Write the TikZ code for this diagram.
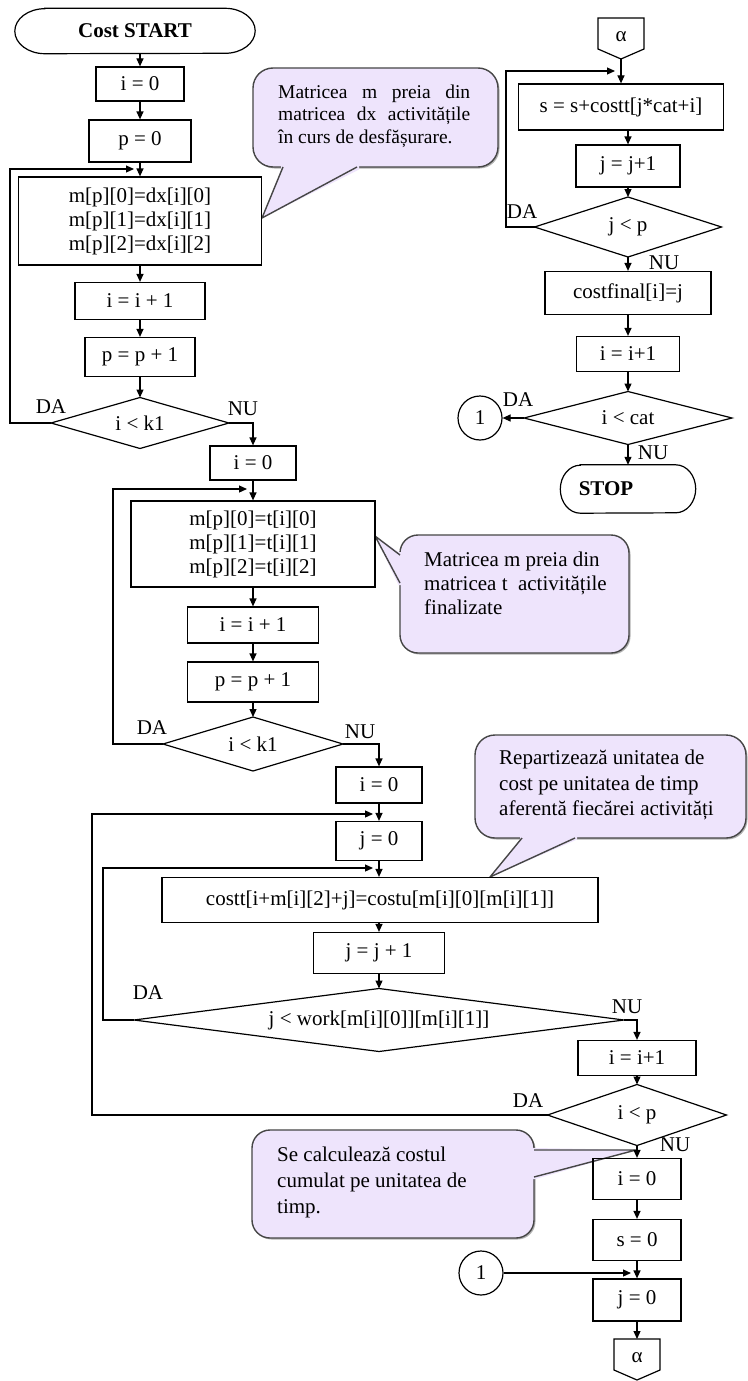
\documentclass[tikz,border=0pt]{standalone}
\usepackage{fontspec}
\setmainfont{Liberation Serif}
\usetikzlibrary{arrows.meta,shadows}
\definecolor{callfill}{RGB}{238,228,252}
\definecolor{callline}{RGB}{70,70,70}
\newcommand\fs{\fontsize{21}{24}\selectfont}
\newcommand\mydecision[6]{%
  \node[lbl] (#1) at (#2,#3) {#6};
  \coordinate (#1-n) at ({#2},{#3+#5/2});
  \coordinate (#1-s) at ({#2},{#3-#5/2});
  \coordinate (#1-w) at ({#2-#4/2},{#3});
  \coordinate (#1-e) at ({#2+#4/2},{#3});
  \draw[ln] (#1-w) -- (#1-n) -- (#1-e) -- (#1-s) -- cycle;}
\newcommand\myoffpage[3]{%
  \coordinate (#1-n) at ({#2},{#3});
  \coordinate (#1-s) at ({#2},{#3-41});
  \node[lbl] (#1) at ({#2},{#3-19}) {α};
  \draw[ln] ({#2-23},{#3}) -- ({#2+23},{#3}) -- ({#2+23},{#3-31}) -- (#1-s) -- ({#2-23},{#3-31}) -- cycle;}
\tikzset{
  ln/.style={line width=1.2pt, line join=miter},
  box/.style={draw, line width=1.2pt, inner sep=0pt, align=center, font=\fs},
  lbl/.style={inner sep=0pt, font=\fs},
  arr/.style={-{Triangle[length=8pt,width=7pt]}, line width=1.2pt},
  call/.style={draw=callline, fill=callfill, line width=1.4pt, line join=round,
    drop shadow={shadow xshift=1.5pt, shadow yshift=-1.5pt, fill=black, opacity=0.3}},
  ptr/.style={draw=callline, line width=1.4pt, line join=round},
  ctext/.style={inner sep=0pt, align=left, anchor=west},
}
\begin{document}
\begin{tikzpicture}[x=1pt,y=1pt]
\fill[white] (0,0) rectangle (747,-1381);
\useasboundingbox (0,0) rectangle (747,-1381);

% ---------- callouts ----------
% callout 1
\draw[call, rounded corners=20pt] (253,-68) rectangle (498,-167);
\fill[callfill] (262,-218) -- (281,-169.5) -- (281,-165) -- (359,-165) -- (359,-169.5) -- cycle;
\draw[ptr] (283,-167) -- (262,-218) -- (357,-167);
\node[ctext, font=\fontsize{19.5}{22.5}\selectfont] (t1) at (278,-116)
  {\makebox[192pt][s]{Matricea m preia din}\\ \makebox[192pt][s]{matricea dx activitățile}\\ în curs de desfășurare.};

% callout 2
\draw[call, rounded corners=18pt] (400,-535) rectangle (629,-653);
\fill[callfill] (375,-536) -- (398.5,-552) -- (402,-552) -- (402,-585) -- (398.5,-585) -- cycle;
\draw[ptr] (400,-555) -- (375,-536) -- (400,-583);
\node[ctext, font=\fs] (t2) at (424,-583)
  {Matricea m preia din\\ matricea t\ \ activitățile\\ finalizate};

% callout 3
\draw[call, rounded corners=20pt] (475,-735) rectangle (746,-838);
\fill[callfill] (490,-877) -- (520,-839.5) -- (520,-836) -- (577,-836) -- (577,-839.5) -- cycle;
\draw[ptr] (522,-838) -- (490,-877) -- (575,-838);
\node[ctext, font=\fontsize{21}{25.5}\selectfont] (t3) at (499,-785)
  {Repartizează unitatea de\\ cost pe unitatea de timp\\ aferentă fiecărei activități};

% callout 4
\draw[call, rounded corners=18pt] (252,-1130) rectangle (534,-1238);
\fill[callfill] (636,-1150) -- (535.5,-1148) -- (532,-1148) -- (532,-1179) -- (535.5,-1179) -- cycle;
\draw[ptr] (534,-1150) -- (636,-1150) -- (534,-1177);
\node[ctext, font=\fontsize{21}{26}\selectfont] (t4) at (277,-1182)
  {Se calculează costul\\ cumulat pe unitatea de\\ timp.};

% ---------- first column ----------
\node[lbl, font=\fs\bfseries, minimum width=240pt, minimum height=45pt] (start) at (135,-31) {Cost START};
\draw[ln] ([xshift=30pt]start.north west) -- ([xshift=-30pt]start.north east)
  arc[start angle=90,end angle=-90,x radius=30pt,y radius=22.5pt]
  -- ([xshift=30pt]start.south west)
  arc[start angle=270,end angle=90,x radius=30pt,y radius=22.5pt] -- cycle;
\node[box, minimum width=88pt, minimum height=34pt] (a1) at (140,-84) {i = 0};
\node[box, minimum width=102pt, minimum height=42pt] (a2) at (140,-141) {p = 0};
\node[box, minimum width=243pt, minimum height=88pt] (a3) at (140,-221) {m[p][0]=dx[i][0]\\ m[p][1]=dx[i][1]\\ m[p][2]=dx[i][2]};
\node[box, minimum width=130pt, minimum height=37pt] (a4) at (140,-301) {i = i + 1};
\node[box, minimum width=110pt, minimum height=39pt] (a5) at (140,-357) {p = p + 1};
\mydecision{d1}{140}{-423}{178}{51}{i < k1}
\node[lbl] (da1) at (51,-407) {DA};
\node[lbl] (nu1) at (243,-409) {NU};

% ---------- second column ----------
\node[box, minimum width=86pt, minimum height=34pt] (b1) at (253,-463) {i = 0};
\node[box, minimum width=244pt, minimum height=86pt] (b2) at (253,-544) {m[p][0]=t[i][0]\\ m[p][1]=t[i][1]\\ m[p][2]=t[i][2]};
\node[box, minimum width=131pt, minimum height=36pt] (b3) at (253,-625) {i = i + 1};
\node[box, minimum width=131pt, minimum height=40pt] (b4) at (253,-682) {p = p + 1};
\mydecision{d2}{253}{-744}{180}{54}{i < k1}
\node[lbl] (da2) at (152,-728) {DA};
\node[lbl] (nu2) at (360,-732) {NU};

% ---------- third column ----------
\node[box, minimum width=86pt, minimum height=36pt] (c1) at (379,-785) {i = 0};
\node[box, minimum width=86pt, minimum height=39pt] (c2) at (379,-841) {j = 0};
\node[box, minimum width=436pt, minimum height=45pt] (c3) at (380,-900) {costt[i+m[i][2]+j]=costu[m[i][0][m[i][1]]};
\node[box, minimum width=131pt, minimum height=41pt] (c4) at (379,-953) {j = j + 1};
\mydecision{d3}{379}{-1020}{490}{63}{j < work[m[i][0]][m[i][1]]}
\node[lbl] (da3) at (148,-993) {DA};
\node[lbl] (nu3) at (627,-1007) {NU};

% ---------- fourth column ----------
\node[box, minimum width=118pt, minimum height=35pt] (c5) at (637,-1058) {i = i+1};
\mydecision{d4}{637}{-1115}{179}{61}{i < p}
\node[lbl] (da4) at (528,-1101) {DA};
\node[lbl] (nu4) at (675,-1145) {NU};
\node[box, minimum width=88pt, minimum height=41pt] (e1) at (637,-1179) {i = 0};
\node[box, minimum width=88pt, minimum height=41pt] (e2) at (637,-1240) {s = 0};
\node[draw, circle, line width=1.2pt, minimum size=44pt, inner sep=0pt, font=\fs] (k1) at (481,-1273) {1};
\node[box, minimum width=88pt, minimum height=42pt] (e3) at (637,-1300) {j = 0};
\myoffpage{al2}{637}{-1339}

% ---------- right column ----------
\myoffpage{al1}{621}{-18}
\node[box, minimum width=205pt, minimum height=46pt] (r1) at (621,-107) {s = s+costt[j*cat+i]};
\node[box, minimum width=104pt, minimum height=42pt] (r2) at (628,-166) {j = j+1};
\mydecision{d5}{628}{-227}{187}{60}{j < p}
\node[lbl] (da5) at (522,-212) {DA};
\node[lbl] (nu5) at (664,-263) {NU};
\node[box, minimum width=166pt, minimum height=43pt] (r3) at (628,-293) {costfinal[i]=j};
\node[box, minimum width=103pt, minimum height=35pt] (r4) at (628,-354) {i = i+1};
\mydecision{d6}{628}{-418}{208}{53}{i < cat}
\node[lbl] (da6) at (518,-400) {DA};
\node[lbl] (nu6) at (653,-453) {NU};
\node[draw, circle, line width=1.2pt, minimum size=44pt, inner sep=0pt, font=\fs] (k2) at (480,-418) {1};
\node[lbl, font=\fs\bfseries, minimum width=135pt, minimum height=48pt] (stop) at (628,-489) {STOP\hspace*{44pt}};
\draw[ln] ([xshift=20pt]stop.north west) -- ([xshift=-20pt]stop.north east)
  arc[start angle=90,end angle=-90,x radius=20pt,y radius=24pt]
  -- ([xshift=20pt]stop.south west)
  arc[start angle=270,end angle=90,x radius=20pt,y radius=24pt] -- cycle;

% ---------- junction coordinates ----------
\coordinate (lc1) at (10,-169);  \coordinate (j1) at (134,-169);
\coordinate (lc2) at (113,-489); \coordinate (j2) at (247,-489);
\coordinate (lc3) at (92,-814);  \coordinate (j3) at (373,-814);
\coordinate (lc4) at (103,-868); \coordinate (j4) at (373,-868);
\coordinate (lc5) at (506,-71);  \coordinate (j5) at (615,-71);
\coordinate (j6) at (631,-1273);

% ---------- connectors ----------
\draw[arr] (start.south -| a1.north) -- (a1.north);
\draw[arr] (a1.south) -- (a2.north);
\draw[arr] (a2.south) -- (a3.north);
\draw[arr] (a3.south) -- (a4.north);
\draw[arr] (a4.south) -- (a5.north);
\draw[arr] (a5.south) -- (d1-n);
\draw[arr] (d1-w) -| (lc1) -- (j1);
\draw[arr] (d1-e) -| (b1.north);

\draw[arr] (b1.south) -- (b2.north);
\draw[arr] (b2.south) -- (b3.north);
\draw[arr] (b3.south) -- (b4.north);
\draw[arr] (b4.south) -- (d2-n);
\draw[arr] (d2-w) -| (lc2) -- (j2);
\draw[arr] (d2-e) -| (c1.north);

\draw[arr] (c1.south) -- (c2.north);
\draw[arr] (c2.south) -- (c2.south |- c3.north);
\draw[arr] (c3.south -| c4.north) -- (c4.north);
\draw[arr] (c4.south) -- (d3-n);
\draw[arr] (d3-w) -| (lc4) -- (j4);
\draw[arr] (d3-e) -| (c5.north);

\draw[arr] (c5.south) -- (d4-n);
\draw[arr] (d4-w) -| (lc3) -- (j3);
\draw[arr] (d4-s) -- (e1.north);
\draw[arr] (e1.south) -- (e2.north);
\draw[arr] (e2.south) -- (e3.north);
\draw[arr] (k1.east) -- (j6);
\draw[arr] (e3.south) -- (al2-n);

\draw[arr] (al1-s) -- (al1-s |- r1.north);
\draw[arr] (r1.south -| r2.north) -- (r2.north);
\draw[arr] (r2.south) -- (d5-n);
\draw[arr] (d5-w) -| (lc5) -- (j5);
\draw[arr] (d5-s) -- (r3.north);
\draw[arr] (r3.south) -- (r4.north);
\draw[arr] (r4.south) -- (d6-n);
\draw[arr] (d6-w) -- (k2.east);
\draw[arr] (d6-s) -- (stop.north);
\end{tikzpicture}
\end{document}
